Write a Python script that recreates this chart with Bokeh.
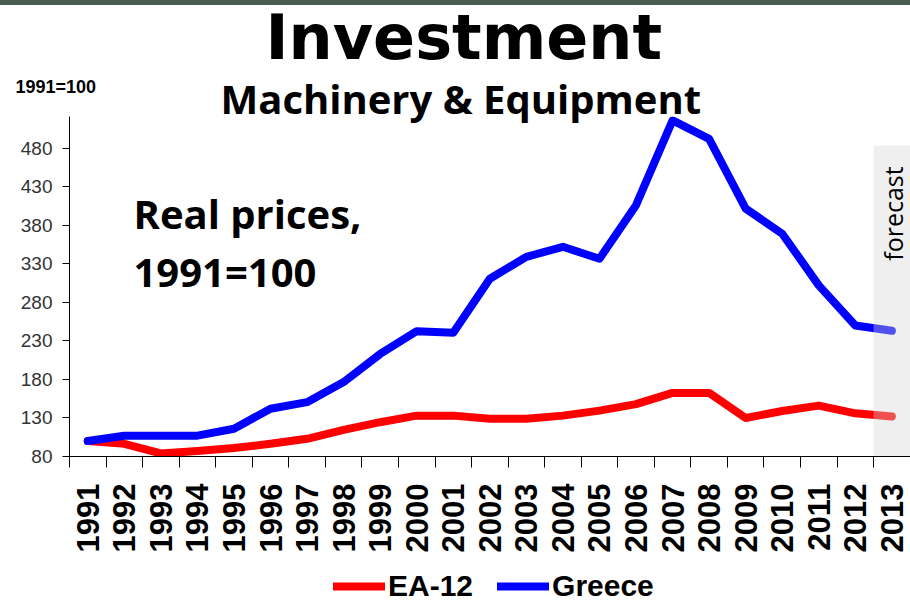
import math
from bokeh.plotting import figure
from bokeh.layouts import column
from bokeh.models import (Range1d, FixedTicker, Label, Legend, LegendItem, Title)
from bokeh.embed import file_html
from bokeh.resources import INLINE

# ---- data ----
years = list(range(1991, 2014))
year_labels = [str(y) for y in years]
ea12 = [100, 96.5, 84, 87, 91, 96.5, 103, 114.5, 124.5, 133, 133, 129, 129, 133,
        139.5, 148, 162.5, 162.5, 130, 139, 146, 136, 132]
greece = [100, 107, 107, 107, 116, 142, 150.5, 176.5, 213, 242.5, 240.5, 310.5,
          339, 352, 336.5, 406, 516, 492, 401.5, 369, 302, 250, 243]
y_ticks = [80, 130, 180, 230, 280, 330, 380, 430, 480]
series_names = ["EA-12", "Greece"]
series_values = [ea12, greece]
series_colors = ["#ff0000", "#0000ff"]
forecast_from = 2012.5

W, H = 910, 603
LEG_H = 47
H_MAIN = H - LEG_H
FRAME_L, FRAME_T, FRAME_B = 69, 116, 456
X0, PX_PER_YEAR = 1990.5, 36.55
Y0, Y1 = 80, 521
PX_PER_UNIT = (FRAME_B - FRAME_T) / (Y1 - Y0)


def xd(px):
    return X0 + (px - FRAME_L) / PX_PER_YEAR


def yd(py):
    return Y0 + (FRAME_B - py) / PX_PER_UNIT


x_end = X0 + (W - FRAME_L) / PX_PER_YEAR

p = figure(width=W, height=H_MAIN, output_backend="svg", toolbar_location=None,
           x_range=Range1d(X0, x_end), y_range=Range1d(Y0, Y1),
           min_border_left=FRAME_L, min_border_top=FRAME_T,
           min_border_bottom=H_MAIN - FRAME_B, min_border_right=0)
p.outline_line_color = None
p.xgrid.visible = False
p.ygrid.visible = False
p.background_fill_color = "white"
p.border_fill_color = None
p.styles = {"background": "linear-gradient(to bottom, #4b5b50 0px, #4b5b50 5px, #ffffff 5px)"}

for vals, col in zip(series_values, series_colors):
    p.line(years, vals, line_color=col, line_width=8,
           line_cap="round", line_join="round")

# forecast band drawn over the lines (lightens them)
p.quad(left=forecast_from, right=x_end + 1, bottom=Y0, top=yd(145),
       fill_color="#d5d5d5", fill_alpha=0.376, line_alpha=0)

# x axis
xa = p.xaxis[0]
xa.ticker = FixedTicker(ticks=years, minor_ticks=[y - 0.5 for y in years])
xa.major_label_overrides = {y: s for y, s in zip(years, year_labels)}
xa.major_label_orientation = math.pi / 2
xa.major_tick_out = 0
xa.major_tick_in = 0
xa.minor_tick_out = 11
xa.minor_tick_in = 0
xa.minor_tick_line_color = "black"
xa.axis_line_color = "black"
xa.major_label_text_font = "Liberation Sans"
xa.major_label_text_font_style = "bold"
xa.major_label_text_font_size = "31px"
xa.major_label_text_color = "black"
xa.major_label_standoff = 16

# y axis
ya = p.yaxis[0]
ya.ticker = FixedTicker(ticks=y_ticks)
ya.major_tick_out = 7
ya.major_tick_in = 0
ya.minor_tick_out = 0
ya.minor_tick_in = 0
ya.axis_line_color = "black"
ya.major_tick_line_color = "black"
ya.major_label_text_font = "Liberation Sans"
ya.major_label_text_font_size = "19px"
ya.major_label_text_color = "#333333"
ya.major_label_standoff = 10

# ---- header texts as stacked titles (innermost first) ----
p.add_layout(Title(text=" ", text_font="Liberation Sans", text_font_size="10px",
                   standoff=4.83, vertical_align="middle"), "above")
p.add_layout(Title(text="Machinery & Equipment", align="left", offset=151,
                   vertical_align="middle", standoff=-56.28, text_font="Open Sans",
                   text_font_style="bold", text_font_size="40px",
                   text_color="black"), "above")
p.add_layout(Title(text="1991=100", align="left", offset=-54,
                   vertical_align="middle", standoff=-1.1, text_font="Liberation Sans",
                   text_font_style="bold", text_font_size="18px",
                   text_color="black"), "above")
p.add_layout(Title(text="Investment", align="left", offset=196,
                   vertical_align="top", standoff=0.83, text_font="DejaVu Sans",
                   text_font_style="bold", text_font_size="62px",
                   text_color="black"), "above")

# texts inside the plot area
p.add_layout(Label(x=xd(133), y=yd(228 - 15.5), text="Real prices,",
                   text_align="left", text_baseline="middle", text_font="Open Sans",
                   text_font_style="bold", text_font_size="40px", text_color="black"))
p.add_layout(Label(x=xd(133), y=yd(286 - 15.5), text="1991=100",
                   text_align="left", text_baseline="middle", text_font="Open Sans",
                   text_font_style="bold", text_font_size="40px", text_color="black"))
p.add_layout(Label(x=xd(892.3), y=yd(213), text="forecast", angle=math.pi / 2,
                   text_align="center", text_baseline="middle",
                   text_font="Open Sans", text_font_size="25px", text_color="black"))

# ---- legend strip under the chart (series drawn off-range, only swatches show) ----
leg = figure(width=W, height=LEG_H, output_backend="svg", toolbar_location=None,
             x_axis_location=None, y_axis_location=None,
             x_range=Range1d(0, 1), y_range=Range1d(0, 1), min_border=0)
leg.outline_line_color = None
leg.xgrid.visible = False
leg.ygrid.visible = False
leg.border_fill_color = None
leg.background_fill_color = None
items = []
for name, vals, col in zip(series_names, series_values, series_colors):
    r = leg.line(years, vals, line_color=col, line_width=8, line_cap="round")
    items.append(LegendItem(label=name, renderers=[r]))
legend = Legend(items=items, orientation="horizontal", location=(264, 0),
                glyph_width=52, glyph_height=30, label_standoff=3, spacing=24,
                padding=0, margin=0, border_line_alpha=0, background_fill_alpha=0,
                label_text_font="Liberation Sans", label_text_font_style="bold",
                label_text_font_size="30px", label_height=30, label_text_color="black")
leg.add_layout(legend)

layout = column(p, leg, spacing=0)
open("out.html", "w").write(file_html(layout, INLINE))
